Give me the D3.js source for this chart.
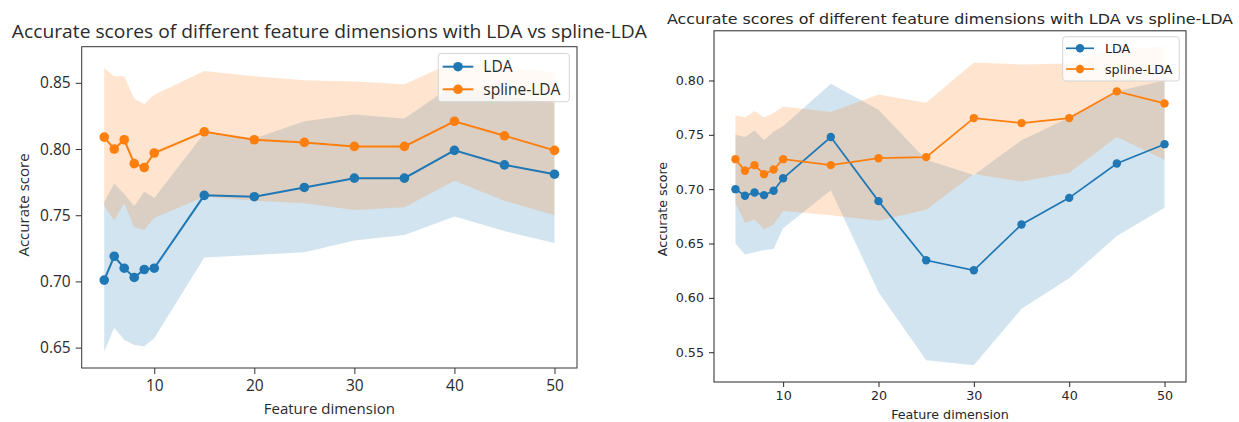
<!DOCTYPE html>
<html>
<head>
<meta charset="utf-8">
<script src="https://cdn.jsdelivr.net/npm/d3@7.9.0/dist/d3.min.js"></script>
<style>
  body { margin: 0; background: #fff; }
  svg { display: block; }
</style>
</head>
<body>
<svg id="chart" width="1239" height="422"></svg>
<script>
// feature dimensions on the x axis (same for both panels)
const dims = [5, 6, 7, 8, 9, 10, 15, 20, 25, 30, 35, 40, 45, 50];
const xTicks = [10, 20, 30, 40, 50];

// left panel
const leftLdaMean = [0.701, 0.719, 0.710, 0.703, 0.709, 0.710, 0.765, 0.764, 0.771, 0.778, 0.778, 0.799, 0.788, 0.781];
const leftLdaUpper = [0.760, 0.774, 0.766, 0.757, 0.768, 0.763, 0.812, 0.808, 0.821, 0.826, 0.823, 0.849, 0.840, 0.835];
const leftLdaLower = [0.647, 0.665, 0.656, 0.652, 0.651, 0.657, 0.718, 0.720, 0.722, 0.731, 0.735, 0.749, 0.738, 0.729];
const leftSplineMean = [0.809, 0.800, 0.807, 0.789, 0.786, 0.797, 0.813, 0.807, 0.805, 0.802, 0.802, 0.821, 0.810, 0.799];
const leftSplineUpper = [0.861, 0.855, 0.855, 0.838, 0.834, 0.841, 0.859, 0.855, 0.852, 0.851, 0.849, 0.866, 0.862, 0.858];
const leftSplineLower = [0.757, 0.746, 0.759, 0.741, 0.739, 0.748, 0.764, 0.761, 0.759, 0.754, 0.756, 0.776, 0.761, 0.750];
const leftYTicks = [0.65, 0.70, 0.75, 0.80, 0.85];

// right panel
const rightLdaMean = [0.700, 0.694, 0.697, 0.6945, 0.6985, 0.710, 0.748, 0.689, 0.6346, 0.6254, 0.6675, 0.692, 0.7236, 0.7414];
const rightLdaUpper = [0.750, 0.748, 0.754, 0.745, 0.753, 0.758, 0.797, 0.773, 0.727, 0.713, 0.745, 0.766, 0.790, 0.800];
const rightLdaLower = [0.650, 0.640, 0.642, 0.644, 0.645, 0.664, 0.699, 0.6055, 0.5425, 0.538, 0.590, 0.618, 0.657, 0.683];
const rightSplineMean = [0.7276, 0.7169, 0.7221, 0.7138, 0.7181, 0.7276, 0.7221, 0.7285, 0.7295, 0.7654, 0.7608, 0.7654, 0.790, 0.7789];
const rightSplineUpper = [0.768, 0.766, 0.772, 0.766, 0.770, 0.776, 0.771, 0.787, 0.7795, 0.8166, 0.8148, 0.8157, 0.829, 0.831];
const rightSplineLower = [0.687, 0.669, 0.672, 0.663, 0.6675, 0.680, 0.676, 0.671, 0.681, 0.714, 0.707, 0.715, 0.748, 0.727];
const rightYTicks = [0.55, 0.60, 0.65, 0.70, 0.75, 0.80];

const seriesNames = ['LDA', 'spline-LDA'];
const seriesColors = ['#1f77b4', '#ff7f0e'];
const title = 'Accurate scores of different feature dimensions with LDA vs spline-LDA';

const svg = d3.select('#chart');

function drawPanel(p) {
    const x = d3.scaleLinear().domain([2.75, 52.25]).range([p.left, p.right]);
    const y = d3.scaleLinear().domain(p.yDomain).range([p.bottom, p.top]);
    const g = svg.append('g').attr('font-family', p.font).attr('fill', p.textColor);

    const series = [
        { mean: p.lda[0], upper: p.lda[1], lower: p.lda[2] },
        { mean: p.spline[0], upper: p.spline[1], lower: p.spline[2] },
    ];

    // shaded bands
    const area = d3.area()
        .x((d) => x(d.x))
        .y0((d) => y(d.lo))
        .y1((d) => y(d.hi));
    series.forEach((s, i) => {
        const pts = dims.map((d, k) => ({ x: d, lo: s.lower[k], hi: s.upper[k] }));
        g.append('path')
            .attr('d', area(pts))
            .attr('fill', seriesColors[i])
            .attr('fill-opacity', 0.2);
    });

    // lines with markers
    const line = d3.line().x((d) => x(d.x)).y((d) => y(d.v));
    series.forEach((s, i) => {
        const pts = dims.map((d, k) => ({ x: d, v: s.mean[k] }));
        g.append('path')
            .attr('d', line(pts))
            .attr('fill', 'none')
            .attr('stroke', seriesColors[i])
            .attr('stroke-width', p.lineWidth);
        g.selectAll(null).data(pts).enter().append('circle')
            .attr('cx', (d) => x(d.x))
            .attr('cy', (d) => y(d.v))
            .attr('r', p.markerR)
            .attr('fill', seriesColors[i]);
    });

    // axes
    const xAxis = g.append('g')
        .attr('transform', `translate(0,${p.bottom})`)
        .call(d3.axisBottom(x).tickValues(xTicks).tickSize(p.tickLen).tickPadding(p.xPad));
    const yAxis = g.append('g')
        .attr('transform', `translate(${p.left},0)`)
        .call(d3.axisLeft(y).tickValues(p.yTicks).tickFormat(d3.format('.2f')).tickSize(p.tickLen).tickPadding(p.yPad));
    [xAxis, yAxis].forEach((a) => {
        a.select('.domain').remove();
        a.selectAll('line').attr('stroke', p.spineColor);
        a.selectAll('text')
            .attr('fill', p.textColor)
            .attr('font-family', p.font)
            .attr('font-size', p.tickSize);
    });

    // frame
    g.append('rect')
        .attr('x', p.left).attr('y', p.top)
        .attr('width', p.right - p.left).attr('height', p.bottom - p.top)
        .attr('fill', 'none')
        .attr('stroke', p.spineColor)
        .attr('stroke-width', 1);

    // legend
    const lg = g.append('g');
    lg.append('rect')
        .attr('x', p.legend.x0).attr('y', p.legend.y0)
        .attr('width', p.legend.x1 - p.legend.x0).attr('height', p.legend.y1 - p.legend.y0)
        .attr('rx', 3)
        .attr('fill', '#fff').attr('fill-opacity', 0.8)
        .attr('stroke', '#d4d4d4');
    seriesNames.forEach((name, i) => {
        const ry = p.legend.rows[i];
        lg.append('line')
            .attr('x1', p.legend.lineX[0]).attr('x2', p.legend.lineX[1])
            .attr('y1', ry).attr('y2', ry)
            .attr('stroke', seriesColors[i]).attr('stroke-width', p.lineWidth);
        lg.append('circle')
            .attr('cx', (p.legend.lineX[0] + p.legend.lineX[1]) / 2)
            .attr('cy', ry).attr('r', p.markerR)
            .attr('fill', seriesColors[i]);
        lg.append('text')
            .attr('x', p.legend.textX).attr('y', ry)
            .attr('dy', '0.36em')
            .attr('font-size', p.tickSize)
            .text(name);
    });

    // labels
    g.append('text')
        .attr('x', (p.left + p.right) / 2).attr('y', p.titleY)
        .attr('text-anchor', 'middle')
        .attr('font-size', p.titleSize)
        .attr('textLength', p.titleLen)
        .attr('lengthAdjust', 'spacingAndGlyphs')
        .text(title);
    g.append('text')
        .attr('x', (p.left + p.right) / 2).attr('y', p.xLabelY)
        .attr('text-anchor', 'middle')
        .attr('font-size', p.labelSize)
        .text('Feature dimension');
    g.append('text')
        .attr('transform', `translate(${p.yLabelX},${p.yLabelY}) rotate(-90)`)
        .attr('text-anchor', 'middle')
        .attr('font-size', p.labelSize)
        .text('Accurate score');
}

drawPanel({
    left: 81.7, right: 577, top: 46.7, bottom: 368,
    yDomain: [0.6346, 0.8773], yTicks: leftYTicks,
    lda: [leftLdaMean, leftLdaUpper, leftLdaLower],
    spline: [leftSplineMean, leftSplineUpper, leftSplineLower],
    font: '"Open Sans", sans-serif', textColor: '#2b2b2b', spineColor: '#333',
    tickSize: 15.5, labelSize: 15, titleSize: 17.5, titleLen: 635, titleY: 38,
    tickLen: 6, xPad: 6, yPad: 5,
    lineWidth: 2, markerR: 4.8,
    xLabelY: 414, yLabelX: 28.5, yLabelY: 205,
    legend: { x0: 438.3, x1: 569.3, y0: 53.5, y1: 101.7, rows: [66.7, 89.3], lineX: [442.7, 473.3], textX: 483.3 },
});

drawPanel({
    left: 714, right: 1186, top: 30.8, bottom: 382,
    yDomain: [0.5226, 0.8457], yTicks: rightYTicks,
    lda: [rightLdaMean, rightLdaUpper, rightLdaLower],
    spline: [rightSplineMean, rightSplineUpper, rightSplineLower],
    font: '"DejaVu Sans", sans-serif', textColor: '#262626', spineColor: '#262626',
    tickSize: 12.7, labelSize: 12.7, titleSize: 14.5, titleLen: 566, titleY: 24,
    tickLen: 5, xPad: 4, yPad: 5,
    lineWidth: 1.7, markerR: 4.2,
    xLabelY: 418.5, yLabelX: 666.5, yLabelY: 209,
    legend: { x0: 1062.7, x1: 1179.3, y0: 36.7, y1: 81, rows: [48.3, 69], lineX: [1066, 1094], textX: 1105 },
});
</script>
</body>
</html>
